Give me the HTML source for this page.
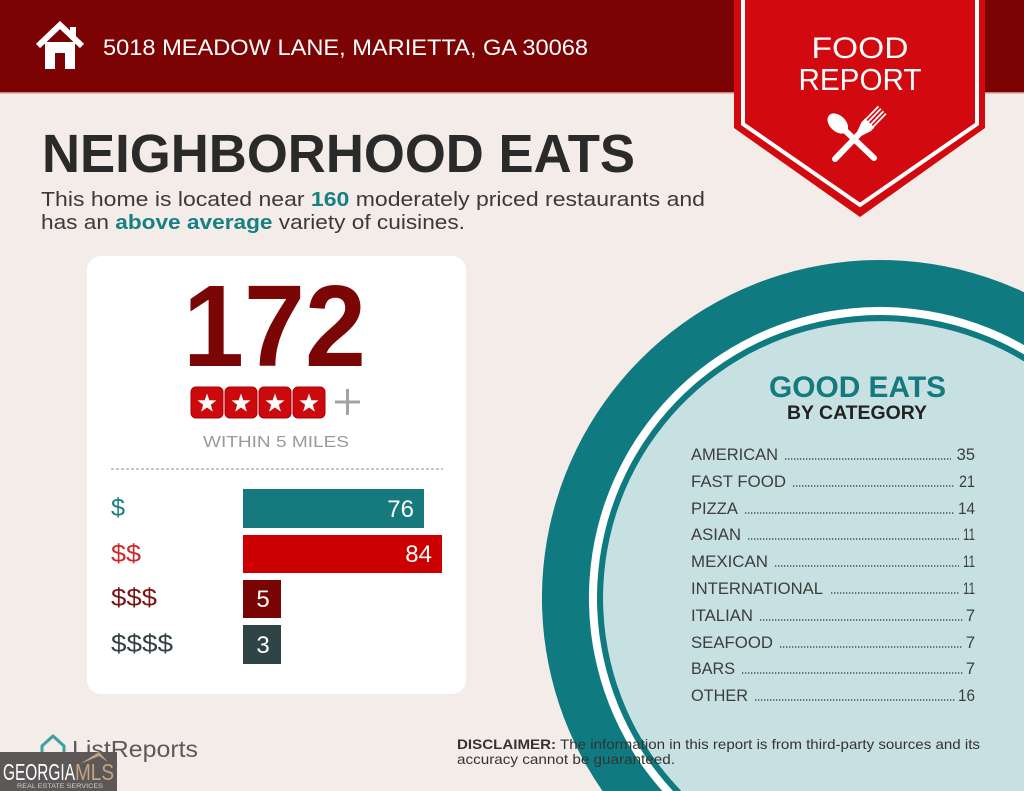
<!DOCTYPE html>
<html><head><meta charset="utf-8"><style>
html,body{margin:0;padding:0;background:#f4ece9;width:1024px;height:791px;overflow:hidden;}
svg{display:block;}
text{font-family:"Liberation Sans",sans-serif;}
</style></head><body>
<svg width="1024" height="791" viewBox="0 0 1024 791" xmlns="http://www.w3.org/2000/svg">
<rect x="0" y="0" width="1024" height="791" fill="#f4ece9"/>
<!-- header band -->
<rect x="0" y="0" width="1024" height="92" fill="#7b0303"/>
<rect x="0" y="92" width="1024" height="1.5" fill="#c98a86"/>
<!-- house icon -->
<rect x="70" y="27" width="6" height="12" fill="#fff"/>
<rect x="45" y="42" width="30" height="27" fill="#fff"/>
<polyline points="38,46 60,25 82,46" fill="none" stroke="#fff" stroke-width="6" stroke-linejoin="miter"/>
<rect x="55" y="53" width="10" height="16" fill="#7b0303"/>
<text x="103" y="55" font-size="22" fill="#fff" textLength="485" lengthAdjust="spacingAndGlyphs">5018 MEADOW LANE, MARIETTA, GA 30068</text>

<!-- banner -->
<polygon points="734,0 985,0 985,128 860,217 734,128" fill="#d20a10"/>
<polyline points="743,0 743,124 860,205 977,124 977,0" fill="none" stroke="#fff" stroke-width="4"/>
<text x="860" y="58" font-size="30" fill="#fff" text-anchor="middle" textLength="97" lengthAdjust="spacingAndGlyphs">FOOD</text>
<text x="860" y="90" font-size="31" fill="#fff" text-anchor="middle" textLength="123" lengthAdjust="spacingAndGlyphs">REPORT</text>
<!-- fork -->
<g transform="translate(835,159) rotate(-46.1)">
  <line x1="0" y1="0" x2="38" y2="0" stroke="#fff" stroke-width="6" stroke-linecap="round"/>
  <polygon points="35,-3 45,-6.5 50,-6.5 50,6.5 45,6.5 35,3" fill="#fff"/>
  <line x1="48" y1="-5.2" x2="68" y2="-5.2" stroke="#fff" stroke-width="1.8"/>
  <line x1="48" y1="-1.8" x2="68" y2="-1.8" stroke="#fff" stroke-width="1.8"/>
  <line x1="48" y1="1.8" x2="68" y2="1.8" stroke="#fff" stroke-width="1.8"/>
  <line x1="48" y1="5.2" x2="68" y2="5.2" stroke="#fff" stroke-width="1.8"/>
</g>
<!-- spoon -->
<g transform="translate(874,158) rotate(-136.4)">
  <line x1="0" y1="0" x2="42" y2="0" stroke="#fff" stroke-width="6" stroke-linecap="round"/>
  <ellipse cx="50" cy="0" rx="12" ry="8" fill="#fff"/>
</g>

<!-- title -->
<text x="42" y="172" font-size="54" font-weight="bold" fill="#2a2a2a" textLength="593" lengthAdjust="spacingAndGlyphs">NEIGHBORHOOD EATS</text>
<text x="41" y="206" font-size="20" fill="#3a3a3a" textLength="664" lengthAdjust="spacingAndGlyphs">This home is located near <tspan font-weight="bold" fill="#178083">160</tspan> moderately priced restaurants and</text>
<text x="41" y="229" font-size="20" fill="#3a3a3a" textLength="424" lengthAdjust="spacingAndGlyphs">has an <tspan font-weight="bold" fill="#178083">above average</tspan> variety of cuisines.</text>

<!-- circle (clipped to frame) -->
<path d="M1024,292.2 A338,338 0 0 0 602.5,791 L1024,791 Z" fill="#0f7b80"/>
<path d="M1024,345.1 A291,291 0 0 0 662.2,791 L1024,791 Z" fill="#ffffff"/>
<path d="M1024,354.4 A283,283 0 0 0 673,791 L1024,791 Z" fill="#0f7b80"/>
<path d="M1024,361.4 A277,277 0 0 0 681.3,791 L1024,791 Z" fill="#c7e0e1"/>

<text x="769" y="397" font-size="30" font-weight="bold" fill="#137a7e" textLength="177" lengthAdjust="spacingAndGlyphs">GOOD EATS</text>
<text x="787" y="419" font-size="19" font-weight="bold" fill="#222" textLength="140" lengthAdjust="spacingAndGlyphs">BY CATEGORY</text>

<g font-size="16.5" fill="#3d3d3d">
<text x="691" y="460" textLength="87" lengthAdjust="spacingAndGlyphs">AMERICAN</text>
<text x="691" y="487" textLength="95" lengthAdjust="spacingAndGlyphs">FAST FOOD</text>
<text x="691" y="514" textLength="47" lengthAdjust="spacingAndGlyphs">PIZZA</text>
<text x="691" y="540" textLength="50" lengthAdjust="spacingAndGlyphs">ASIAN</text>
<text x="691" y="567" textLength="77" lengthAdjust="spacingAndGlyphs">MEXICAN</text>
<text x="691" y="594" textLength="132" lengthAdjust="spacingAndGlyphs">INTERNATIONAL</text>
<text x="691" y="621" textLength="62" lengthAdjust="spacingAndGlyphs">ITALIAN</text>
<text x="691" y="648" textLength="82" lengthAdjust="spacingAndGlyphs">SEAFOOD</text>
<text x="691" y="674" textLength="44" lengthAdjust="spacingAndGlyphs">BARS</text>
<text x="691" y="701" textLength="57" lengthAdjust="spacingAndGlyphs">OTHER</text>
<text x="975" y="460" text-anchor="end">35</text>
<text x="975" y="487" text-anchor="end" textLength="16" lengthAdjust="spacingAndGlyphs">21</text>
<text x="975" y="514" text-anchor="end" textLength="17" lengthAdjust="spacingAndGlyphs">14</text>
<text x="975" y="540" text-anchor="end" textLength="12" lengthAdjust="spacingAndGlyphs">11</text>
<text x="975" y="567" text-anchor="end" textLength="12" lengthAdjust="spacingAndGlyphs">11</text>
<text x="975" y="594" text-anchor="end" textLength="12" lengthAdjust="spacingAndGlyphs">11</text>
<text x="975" y="621" text-anchor="end">7</text>
<text x="975" y="648" text-anchor="end">7</text>
<text x="975" y="674" text-anchor="end">7</text>
<text x="975" y="701" text-anchor="end" textLength="17" lengthAdjust="spacingAndGlyphs">16</text>
</g>
<g stroke="#4a4a4a" stroke-width="1.4" stroke-dasharray="1.3 1.7">
<line x1="785" y1="459" x2="951" y2="459"/>
<line x1="793" y1="486" x2="955" y2="486"/>
<line x1="745" y1="513" x2="955" y2="513"/>
<line x1="748" y1="539" x2="959" y2="539"/>
<line x1="775" y1="566" x2="959" y2="566"/>
<line x1="831" y1="593" x2="959" y2="593"/>
<line x1="760" y1="620" x2="963" y2="620"/>
<line x1="780" y1="647" x2="963" y2="647"/>
<line x1="742" y1="673" x2="963" y2="673"/>
<line x1="755" y1="700" x2="955" y2="700"/>
</g>

<!-- white card -->
<rect x="87" y="256" width="379" height="438" rx="14" fill="#ffffff"/>
<text x="183" y="366" font-size="116" font-weight="bold" fill="#7b0606" textLength="183" lengthAdjust="spacingAndGlyphs">172</text>
<g fill="#cc0a0e" stroke="#a80008" stroke-width="1">
<rect x="191" y="387" width="32" height="31" rx="5"/>
<rect x="225" y="387" width="32" height="31" rx="5"/>
<rect x="259" y="387" width="32" height="31" rx="5"/>
<rect x="293" y="387" width="32" height="31" rx="5"/>
</g>
<g fill="#fff">
<path transform="translate(207,403.5)" d="M0,-10 L2.35,-3.24 L9.51,-3.09 L3.8,1.24 L5.88,8.09 L0,4 L-5.88,8.09 L-3.8,1.24 L-9.51,-3.09 L-2.35,-3.24 Z"/>
<path transform="translate(241,403.5)" d="M0,-10 L2.35,-3.24 L9.51,-3.09 L3.8,1.24 L5.88,8.09 L0,4 L-5.88,8.09 L-3.8,1.24 L-9.51,-3.09 L-2.35,-3.24 Z"/>
<path transform="translate(275,403.5)" d="M0,-10 L2.35,-3.24 L9.51,-3.09 L3.8,1.24 L5.88,8.09 L0,4 L-5.88,8.09 L-3.8,1.24 L-9.51,-3.09 L-2.35,-3.24 Z"/>
<path transform="translate(309,403.5)" d="M0,-10 L2.35,-3.24 L9.51,-3.09 L3.8,1.24 L5.88,8.09 L0,4 L-5.88,8.09 L-3.8,1.24 L-9.51,-3.09 L-2.35,-3.24 Z"/>
</g>
<line x1="335" y1="402" x2="360" y2="402" stroke="#a3a3a3" stroke-width="3"/>
<line x1="347.5" y1="389" x2="347.5" y2="415" stroke="#a3a3a3" stroke-width="3"/>
<text x="203" y="447" font-size="16" fill="#9a9a9a" textLength="146" lengthAdjust="spacingAndGlyphs">WITHIN 5 MILES</text>
<line x1="111" y1="469" x2="443" y2="469" stroke="#a8a8a8" stroke-width="1.2" stroke-dasharray="3 2"/>

<!-- bars -->
<rect x="243" y="489" width="181" height="39" fill="#16797e"/>
<rect x="243" y="535" width="199" height="38" fill="#cc0000"/>
<rect x="243" y="580" width="38" height="38" fill="#7a0303"/>
<rect x="243" y="625" width="38" height="39" fill="#2f4447"/>
<g font-size="24" fill="#fff">
<text x="414" y="517" text-anchor="end">76</text>
<text x="432" y="562" text-anchor="end">84</text>
<text x="263" y="607" text-anchor="middle">5</text>
<text x="263" y="653" text-anchor="middle">3</text>
</g>
<g font-size="25">
<text x="111" y="516" fill="#17807f" textLength="14" lengthAdjust="spacingAndGlyphs">$</text>
<text x="111" y="562" fill="#cc2a2a" textLength="30" lengthAdjust="spacingAndGlyphs">$$</text>
<text x="111" y="606" fill="#7a1515" textLength="46" lengthAdjust="spacingAndGlyphs">$$$</text>
<text x="111" y="652" fill="#334144" textLength="62" lengthAdjust="spacingAndGlyphs">$$$$</text>
</g>

<!-- disclaimer -->
<text x="457" y="749" font-size="14" fill="#333" textLength="523" lengthAdjust="spacingAndGlyphs"><tspan font-weight="bold">DISCLAIMER:</tspan> The information in this report is from third-party sources and its</text>
<text x="457" y="764" font-size="14" fill="#333" textLength="218" lengthAdjust="spacingAndGlyphs">accuracy cannot be guaranteed.</text>

<!-- ListReports -->
<path d="M42,746 L53,736 L64,746 L64,757 L42,757 Z" fill="none" stroke="#3f9ea0" stroke-width="3" stroke-linejoin="round"/>
<text x="72" y="757" font-size="23" fill="#5a5a5a" textLength="126" lengthAdjust="spacingAndGlyphs">ListReports</text>

<!-- Georgia MLS -->
<rect x="0" y="752" width="117" height="39" fill="#5c5857"/>
<polygon points="80,764 99,752 108,762 99,756" fill="#c4a482"/>
<text x="3" y="780" font-size="23" fill="#fff" textLength="72" lengthAdjust="spacingAndGlyphs">GEORGIA</text>
<text x="75" y="780" font-size="23" fill="#c4a482" textLength="39" lengthAdjust="spacingAndGlyphs">MLS</text>
<text x="17" y="788" font-size="6" fill="#cfcfcf" textLength="86" lengthAdjust="spacingAndGlyphs">REAL ESTATE SERVICES</text>
</svg>
</body></html>
